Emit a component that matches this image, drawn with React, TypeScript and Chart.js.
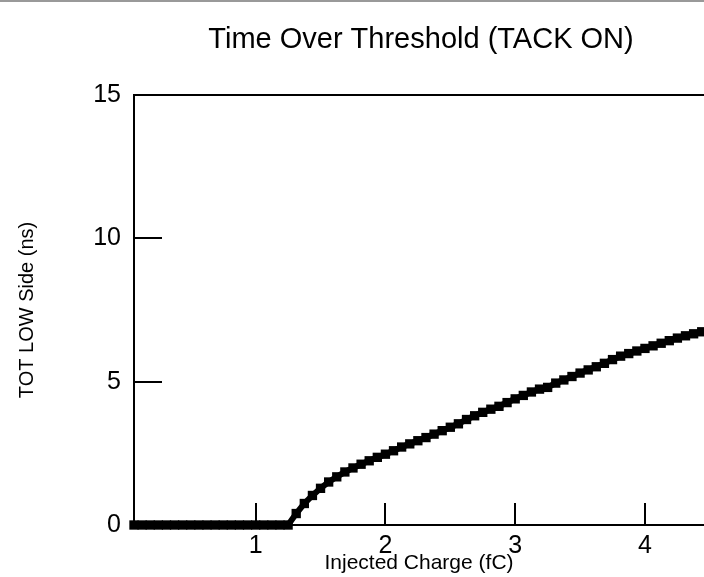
import React, { useEffect, useRef } from "react";
import { Chart, registerables } from "chart.js";

Chart.register(...registerables);

const TITLE = "Time Over Threshold (TACK ON)";
const X_TITLE = "Injected Charge (fC)";
const Y_TITLE = "TOT LOW Side (ns)";

const X_TICKS = [1, 2, 3, 4];
const Y_TICKS = [0, 5, 10, 15];

// Injected charge (fC)
const chargeFC = [
  0.0625, 0.125, 0.1875, 0.25, 0.3125, 0.375, 0.4375, 0.5, 0.5625, 0.625,
  0.6875, 0.75, 0.8125, 0.875, 0.9375, 1.0, 1.0625, 1.125, 1.1875, 1.25,
  1.3125, 1.375, 1.4375, 1.5, 1.5625, 1.625, 1.6875, 1.75, 1.8125, 1.875,
  1.9375, 2.0, 2.0625, 2.125, 2.1875, 2.25, 2.3125, 2.375, 2.4375, 2.5,
  2.5625, 2.625, 2.6875, 2.75, 2.8125, 2.875, 2.9375, 3.0, 3.0625, 3.125,
  3.1875, 3.25, 3.3125, 3.375, 3.4375, 3.5, 3.5625, 3.625, 3.6875, 3.75,
  3.8125, 3.875, 3.9375, 4.0, 4.0625, 4.125, 4.1875, 4.25, 4.3125, 4.375,
  4.4375, 4.5,
];

// Time over threshold, LOW side (ns)
const totNs = [
  0, 0, 0, 0, 0, 0, 0, 0, 0, 0,
  0, 0, 0, 0, 0, 0, 0, 0, 0, 0,
  0.4, 0.75, 1.03, 1.28, 1.5, 1.68, 1.85, 1.99, 2.12, 2.24,
  2.36, 2.47, 2.59, 2.72, 2.83, 2.94, 3.05, 3.17, 3.29, 3.41,
  3.53, 3.68, 3.81, 3.93, 4.04, 4.14, 4.27, 4.4, 4.52, 4.64,
  4.74, 4.8, 4.95, 5.06, 5.18, 5.3, 5.41, 5.52, 5.64, 5.77,
  5.89, 5.98, 6.07, 6.16, 6.25, 6.34, 6.43, 6.52, 6.6, 6.67,
  6.74, 6.8,
];

const FONT = "'Liberation Sans', Arial, sans-serif";

const framePlugin = {
  id: "frameAndTitle",
  afterDraw(chart: any) {
    const { ctx, chartArea } = chart;
    const { left, right, top, bottom } = chartArea;
    const xs = chart.scales.x;
    const ys = chart.scales.y;
    ctx.save();
    // top border
    ctx.strokeStyle = "#000";
    ctx.lineWidth = 2;
    ctx.beginPath();
    ctx.moveTo(left, top);
    ctx.lineTo(chart.width, top);
    ctx.stroke();
    // inward ticks
    ctx.lineWidth = 2;
    ys.ticks.forEach((t: any) => {
      if (t.value === ys.min || t.value === ys.max) return;
      const py = Math.round(ys.getPixelForValue(t.value));
      ctx.beginPath();
      ctx.moveTo(left, py);
      ctx.lineTo(left + 28, py);
      ctx.stroke();
    });
    xs.ticks.forEach((t: any) => {
      const px = Math.round(xs.getPixelForValue(t.value));
      ctx.beginPath();
      ctx.moveTo(px, bottom);
      ctx.lineTo(px, bottom - 22);
      ctx.stroke();
    });
    // faint top line of the picture
    ctx.strokeStyle = "#999";
    ctx.lineWidth = 2;
    ctx.beginPath();
    ctx.moveTo(0, 1);
    ctx.lineTo(chart.width, 1);
    ctx.stroke();
    // title
    ctx.fillStyle = "#000";
    ctx.font = `29px ${FONT}`;
    ctx.textAlign = "center";
    ctx.textBaseline = "middle";
    ctx.fillText(TITLE, (left + right) / 2 + 2, 40);
    ctx.restore();
  },
};

export default function App() {
  const ref = useRef<HTMLCanvasElement>(null);

  useEffect(() => {
    if (!ref.current) return;
    const data = chargeFC.map((x, i) => ({ x, y: totNs[i] }));
    const chart = new Chart(ref.current, {
      type: "scatter",
      data: {
        datasets: [
          {
            data,
            showLine: true,
            borderColor: "#000",
            borderWidth: 6,
            backgroundColor: "#000",
            pointStyle: "rect",
            pointRadius: 6.6,
            pointBorderWidth: 0,
            clip: false as any,
          },
        ],
      },
      options: {
        responsive: false,
        animation: false,
        layout: {
          autoPadding: false,
          padding: { top: 95, left: 0, right: 0, bottom: 0 },
        },
        plugins: {
          legend: { display: false },
          tooltip: { enabled: false },
          title: { display: false },
        },
        scales: {
          x: {
            type: "linear",
            min: 0.0625,
            max: 4.455,
            afterBuildTicks: (s: any) => {
              s.ticks = X_TICKS.map((v) => ({ value: v }));
            },
            afterFit: (s: any) => {
              s.height = 52;
              s.paddingLeft = 0;
              s.paddingRight = 0;
            },
            grid: { drawOnChartArea: false, drawTicks: false },
            border: { color: "#000", width: 2 },
            ticks: {
              color: "#000",
              padding: 6,
              font: { family: FONT, size: 25 },
              maxRotation: 0,
            },
            title: {
              display: true,
              text: X_TITLE,
              color: "#000",
              font: { family: FONT, size: 21 },
              padding: { top: 0, bottom: 1 },
            },
          },
          y: {
            type: "linear",
            min: 0,
            max: 15,
            afterBuildTicks: (s: any) => {
              s.ticks = Y_TICKS.map((v) => ({ value: v }));
            },
            afterFit: (s: any) => {
              s.width = 134;
            },
            grid: { drawOnChartArea: false, drawTicks: false },
            border: { color: "#000", width: 2 },
            ticks: {
              color: "#000",
              padding: 13,
              font: { family: FONT, size: 25 },
            },
            title: {
              display: true,
              text: Y_TITLE,
              color: "#000",
              font: { family: FONT, size: 20 },
              padding: { top: 15, bottom: 0 },
            },
          },
        },
      },
      plugins: [framePlugin],
    });
    return () => chart.destroy();
  }, []);

  return (
    <div
      style={{
        position: "fixed",
        left: 0,
        top: 0,
        width: 704,
        height: 577,
        overflow: "hidden",
        background: "#fff",
      }}
    >
      <canvas ref={ref} width={704} height={577} />
    </div>
  );
}
